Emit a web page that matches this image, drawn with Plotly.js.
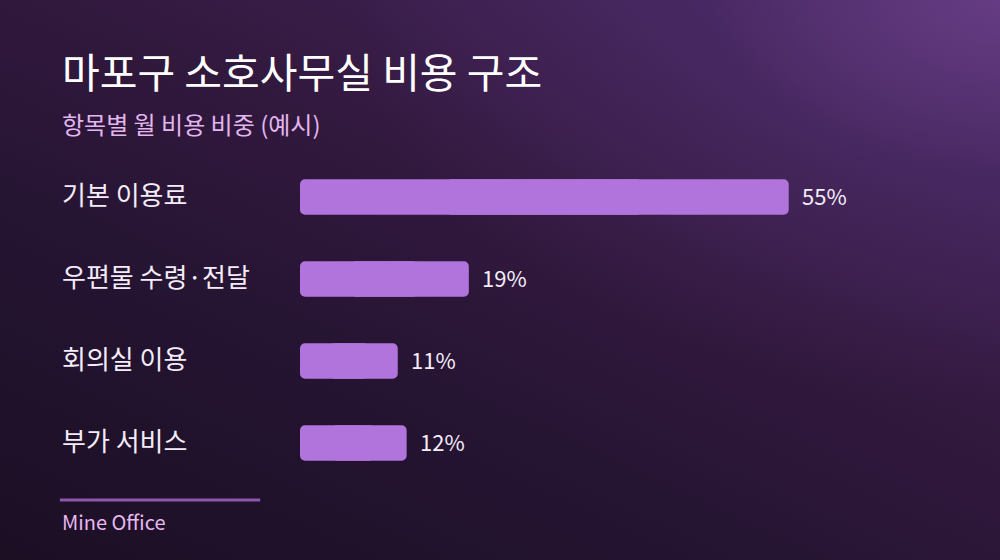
<!DOCTYPE html>
<html>
<head>
<meta charset="utf-8">
<script src="https://cdn.plot.ly/plotly-3.0.1.min.js"></script>
<style>
  html, body { margin: 0; padding: 0; }
  #chart {
    width: 1000px; height: 560px;
    background:
      radial-gradient(ellipse 650px 400px at 1000px 0px, rgba(104,62,134,0.9) 0%, rgba(80,46,110,0.45) 45%, rgba(50,26,68,0) 100%),
      linear-gradient(205deg, #4a2966 0%, #33193f 40%, #231330 70%, #1c0f24 100%);
  }
</style>
</head>
<body>
<div id="chart"></div>
<script>
// 항목별 월 비용 비중
let categories = ['기본 이용료', '우편물 수령·전달', '회의실 이용', '부가 서비스'];
let shares = [55, 19, 11, 12];

let titleText = '마포구 소호사무실 비용 구조';
let subtitleText = '항목별 월 비용 비중 (예시)';
let sourceText = 'Mine Office';

let fontFamily = '"Noto Sans CJK KR", "Noto Sans", sans-serif';
let barColor = '#b174dc';

// 양쪽 끝 모두 둥글게: 막대를 겹치는 두 조각으로 그림
// 오른쪽 조각: 0.3v -> v, 왼쪽 조각: 0.7v -> 0
let rightBase = shares.map(function (v) { return v * 0.3; });
let rightLen = shares.map(function (v) { return v * 0.7; });
let leftBase = shares.map(function (v) { return v * 0.7; });
let leftLen = shares.map(function (v) { return -v * 0.7; });

let data = [{
    type: 'bar',
    orientation: 'h',
    x: rightLen,
    base: rightBase,
    y: categories,
    width: 0.43,
    marker: { color: barColor, line: { width: 0 } },
    hoverinfo: 'none'
}, {
    type: 'bar',
    orientation: 'h',
    x: leftLen,
    base: leftBase,
    y: categories,
    width: 0.43,
    marker: { color: barColor, line: { width: 0 } },
    hoverinfo: 'none'
}];

let annotations = [];

// 왼쪽 항목 이름
categories.forEach(function (c) {
    annotations.push({
        xref: 'paper', yref: 'y',
        x: -0.386, y: c,
        xanchor: 'left', yanchor: 'middle',
        yshift: 4,
        text: c, showarrow: false,
        font: { size: 26, color: '#f4ecf8', family: fontFamily }
    });
});

// 막대 끝 값
categories.forEach(function (c, i) {
    annotations.push({
        xref: 'x', yref: 'y',
        x: shares[i], y: c,
        xanchor: 'left', yanchor: 'middle',
        xshift: 11, yshift: 2,
        text: shares[i] + '%', showarrow: false,
        font: { size: 22, color: '#f4ecf8', family: fontFamily }
    });
});

// 제목, 부제, 출처
annotations.push({
    xref: 'paper', yref: 'paper', x: -0.386, y: 1.262,
    xanchor: 'left', yanchor: 'middle',
    text: titleText, showarrow: false,
    font: { size: 41, color: '#ffffff', family: fontFamily }
});
annotations.push({
    xref: 'paper', yref: 'paper', x: -0.386, y: 1.10,
    xanchor: 'left', yanchor: 'middle',
    text: subtitleText, showarrow: false,
    font: { size: 24, color: '#e3b6f0', family: fontFamily }
});
annotations.push({
    xref: 'paper', yref: 'paper', x: -0.386, y: -0.115,
    xanchor: 'left', yanchor: 'middle',
    text: sourceText, showarrow: false,
    font: { size: 20, color: '#e8b8f2', family: fontFamily }
});

let layout = {
    width: 1000,
    height: 560,
    paper_bgcolor: 'rgba(0,0,0,0)',
    plot_bgcolor: 'rgba(0,0,0,0)',
    margin: { l: 300, r: 78, t: 156, b: 76 },
    barmode: 'overlay',
    barcornerradius: 5,
    showlegend: false,
    xaxis: {
        range: [0, 70],
        visible: false,
        fixedrange: true
    },
    yaxis: {
        autorange: 'reversed',
        visible: false,
        fixedrange: true
    },
    shapes: [{
        type: 'line', xref: 'paper', yref: 'paper',
        x0: -0.386, x1: -0.064, y0: -0.049, y1: -0.049,
        line: { color: '#8c56ad', width: 3 }
    }],
    annotations: annotations,
    font: { family: fontFamily }
};

Plotly.newPlot('chart', data, layout, { displayModeBar: false, staticPlot: true });
</script>
</body>
</html>
